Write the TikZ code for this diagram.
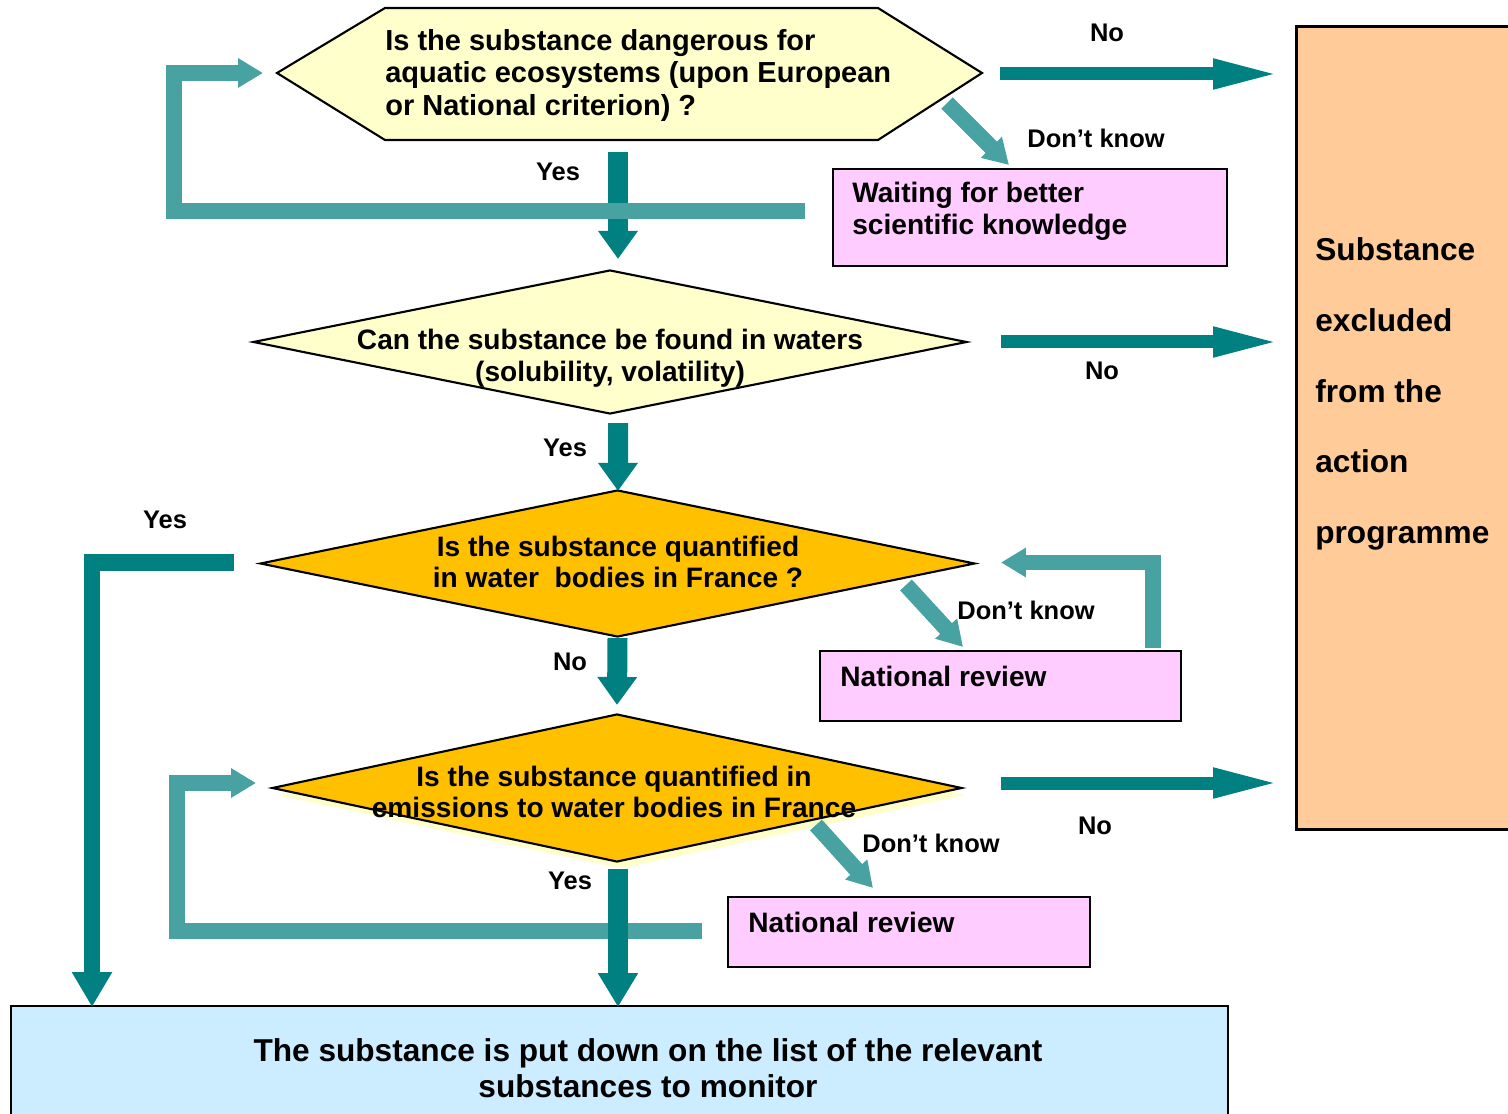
\documentclass[tikz,border=0pt]{standalone}
\usepackage{fontspec}
\setmainfont{Liberation Sans}
\usetikzlibrary{arrows.meta,shapes.geometric,calc}

\definecolor{flowteal}{RGB}{0,128,128}
\definecolor{hatchteal}{RGB}{72,162,162}
\definecolor{paleyellow}{RGB}{255,255,204}
\definecolor{amber}{RGB}{255,192,0}
\definecolor{lilac}{RGB}{255,204,255}
\definecolor{skyblue}{RGB}{204,236,255}
\definecolor{peach}{RGB}{255,204,153}

\begin{document}
\begin{tikzpicture}[x=0.02cm,y=-0.02cm,
    question/.style={draw=black,line width=1.2pt,line join=miter},
    decision/.style={diamond,draw=black,line width=1.2pt,inner sep=0pt},
    panel/.style={rectangle,draw=black,line width=1.2pt,inner sep=0pt,anchor=north west},
    qtext/.style={font=\bfseries\fontsize{16}{18}\selectfont,align=center,inner sep=0pt},
    answer/.style={font=\bfseries\fontsize{14.5}{16}\selectfont,inner sep=0pt},
    flowarrow/.style={draw=flowteal,line width=0.26cm,-{Triangle[length=1.36cm,width=0.54cm]}},
    downarrow/.style={draw=flowteal,line width=0.4cm,-{Triangle[length=0.56cm,width=0.76cm]}},
    hatcharrow/.style={draw=hatchteal,line width=0.32cm,line join=miter,-{Triangle[length=0.5cm,width=0.56cm]}}]
    \useasboundingbox (0,0) rectangle (1508,1114);

    % first question
    \draw[question,fill=paleyellow] (277,73) coordinate (dangerW) -- (385,8) -- (878,8)
        -- (982,73) coordinate (dangerE) -- (878,140) -- (385,140) -- cycle;
    \coordinate (dangerS) at (618,140);
    \node[qtext,align=left,anchor=west,font=\bfseries\fontsize{16.5}{18.4}\selectfont] (danger) at (385,75.5)
        {Is the substance dangerous for\\aquatic ecosystems (upon European\\or National criterion) ?};

    % the other questions
    \node[decision,fill=paleyellow,minimum width=14.28cm,minimum height=2.88cm] (found) at (610,342) {};
    \node[decision,fill=amber,minimum width=14.3cm,minimum height=2.94cm] (quant) at (617.5,563.5) {};
    \node[decision,fill=paleyellow,draw=none,minimum width=13.8cm,minimum height=2.96cm] (emisshadow) at (621,795) {};
    \node[decision,fill=amber,minimum width=13.8cm,minimum height=2.96cm] (emis) at (617,788) {};

    % boxes
    \node[panel,fill=lilac,minimum width=7.88cm,minimum height=1.94cm] (wait) at (832,168) {};
    \node[panel,fill=lilac,minimum width=7.22cm,minimum height=1.4cm] (review1) at (819,650) {};
    \node[panel,fill=lilac,minimum width=7.24cm,minimum height=1.4cm] (review2) at (727,896) {};
    \node[panel,fill=peach,line width=1.8pt,minimum width=4.6cm,minimum height=16.06cm] (excluded) at (1295,25) {};
    \node[panel,fill=skyblue,minimum width=24.34cm,minimum height=2.6cm] (monitor) at (10,1005) {};

    % answers No: out to the exclusion box
    \draw[flowarrow] ($(dangerE)+(18,1)$) -- ($(excluded.west |- dangerE)+(-14,1)$);
    \draw[flowarrow] ($(found.east)+(33,0)$) -- ($(excluded.west |- found.east)+(-14,0)$);
    \draw[flowarrow] ($(emis.east)+(38,-5)$) -- ($(excluded.west |- emis.east)+(-14,-5)$);

    % answers down the chart
    \draw[downarrow] ($(dangerS)+(0,12)$) -- ($(dangerS |- found.north)+(0,-10)$);
    \draw[downarrow] ($(found.south)+(8,8)$) -- ($(quant.north)+(0.5,2)$);
    \draw[downarrow] (quant.south) -- ($(emis.north)+(0,-8)$);
    \draw[downarrow,line width=0.33cm,-{Triangle[length=0.7cm,width=0.76cm]}]
        ($(quant.west)+(-25,-1)$) -| ($(monitor.north west)+(82,2)$);

    % don't know: wait or review, then ask again
    \draw[hatcharrow] ($(wait.west)+(-27,-7)$) -| ($(dangerW)+(-103.5,0)$) -- ($(dangerW)+(-14,0)$);
    \draw[hatcharrow] ($(dangerE)+(-35,30)$) -- ($(wait.north)+(-21,-3)$);
    \draw[hatcharrow] ($(quant.east)+(-70,21.5)$) -- ($(review1.north west)+(144,-3)$);
    \draw[hatcharrow] ($(review1.north east)+(-29,-2)$) |- ($(quant.east)+(25,-1)$);
    \draw[hatcharrow] ($(emis.east)+(-147,37)$) -- ($(review2.north west)+(146,-8)$);
    \draw[hatcharrow] ($(review2.west)+(-25,-1)$) -| ($(emis.west)+(-94,-5)$) -- ($(emis.west)+(-15,-5)$);

    \draw[downarrow,-{Triangle[length=0.68cm,width=0.76cm]}]
        ($(emis.south)+(1,6)$) -- ($(emis.south |- monitor.north)+(1,2)$);

    % texts
    \node[qtext] (foundtxt) at (610,358) {Can the substance be found in waters\\(solubility, volatility)};
    \node[qtext] (quanttxt) at (618,562) {Is the substance quantified\\in water~ bodies in France ?};
    \node[qtext] (emistxt) at (614,792) {Is the substance quantified in\\emissions to water bodies in France};
    \node[qtext,align=left,anchor=west] (waittxt) at (852,211) {Waiting for better\\scientific knowledge};
    \node[qtext,anchor=west] (review1txt) at (840,676) {National review};
    \node[qtext,anchor=west] (review2txt) at (748,922) {National review};
    \node[anchor=west,align=left,inner sep=0pt,font=\bfseries\fontsize{18}{40.3}\selectfont] (excltxt)
        at (1315,394) {Substance\\excluded\\from the\\action\\programme};
    \node[qtext,font=\bfseries\fontsize{18}{20.4}\selectfont] (montxt) at (648,1068)
        {The substance is put down on the list of the relevant\\substances to monitor};

    % answer labels
    \node[answer] (no1) at (1107,33) {No};
    \node[answer] (dk1) at (1096,138) {Don’t know};
    \node[answer] (yes1) at (558,172) {Yes};
    \node[answer] (no2) at (1102,371) {No};
    \node[answer] (yes2) at (565,448) {Yes};
    \node[answer] (yes3) at (165,520) {Yes};
    \node[answer] (dk2) at (1026,610) {Don’t know};
    \node[answer] (no3) at (570,662) {No};
    \node[answer] (no4) at (1095,826) {No};
    \node[answer] (dk3) at (931,843) {Don’t know};
    \node[answer] (yes4) at (570,881) {Yes};
\end{tikzpicture}
\end{document}
